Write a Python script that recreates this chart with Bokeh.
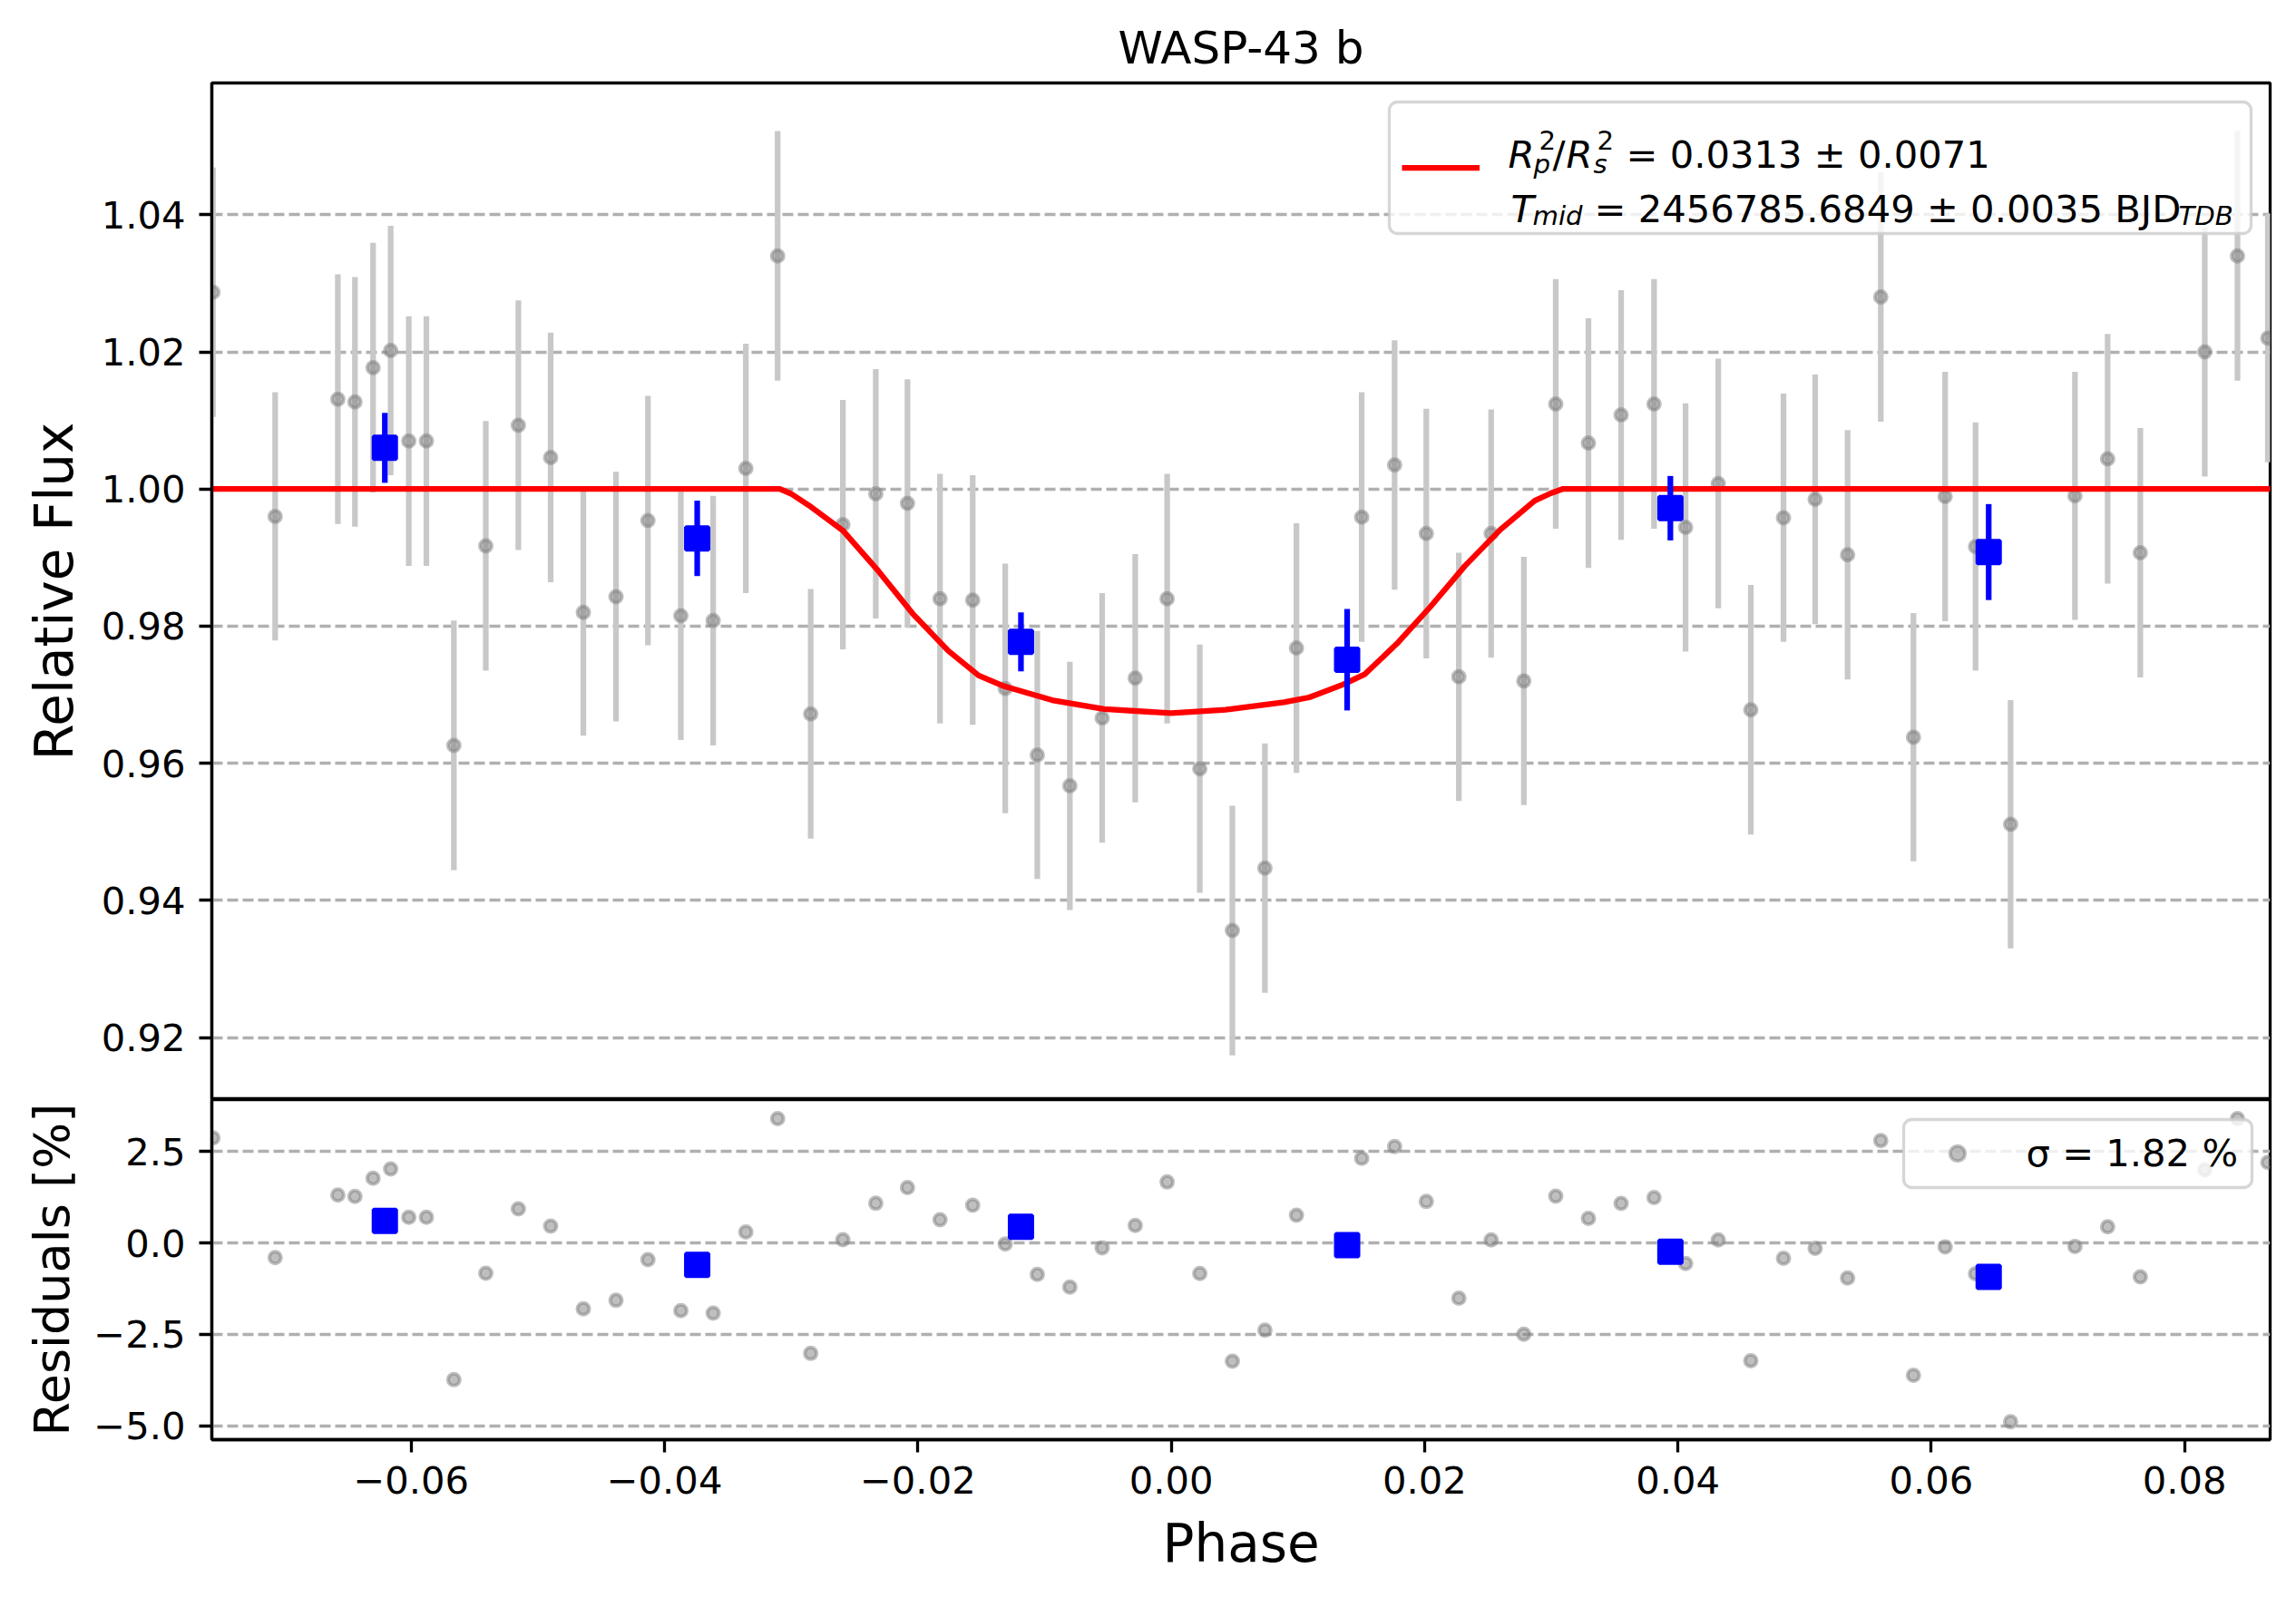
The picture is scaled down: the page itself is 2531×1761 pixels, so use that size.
import numpy as np
from bokeh.plotting import figure
from bokeh.models import (ColumnDataSource, Range1d, FixedTicker, CustomJSTickFormatter,
                          Legend, LegendItem, Label, BoxAnnotation)
from bokeh.layouts import column
from bokeh.embed import file_html
from bokeh.resources import INLINE

# ---------------- data ----------------
phase = [-0.07565, -0.07074, -0.06579, -0.06444, -0.06301, -0.06162, -0.06019, -0.05880, -0.05663, -0.05411,
         -0.05154, -0.04899, -0.04641, -0.04383, -0.04131, -0.03871, -0.03616, -0.03358, -0.03107, -0.02846,
         -0.02592, -0.02332, -0.02082, -0.01825, -0.01567, -0.01310, -0.01057, -0.00800, -0.00545, -0.00284,
         -0.00032, 0.00226, 0.00483, 0.00740, 0.00989, 0.01504, 0.01764, 0.02014, 0.02271, 0.02526,
         0.02784, 0.03036, 0.03294, 0.03552, 0.03812, 0.04061, 0.04319, 0.04576, 0.04834, 0.05084,
         0.05340, 0.05602, 0.05860, 0.06110, 0.06350, 0.06627, 0.07135, 0.07393, 0.07651, 0.08160,
         0.08418, 0.08658]
flux = [1.0287, 0.9960, 1.0131, 1.0127, 1.0177, 1.0202, 1.0070, 1.0070, 0.9626, 0.9917,
        1.0093, 1.0046, 0.9820, 0.9843, 0.9954, 0.9815, 0.9808, 1.0030, 1.0340, 0.9672,
        0.9948, 0.9993, 0.9979, 0.9840, 0.9838, 0.9709, 0.9612, 0.9567, 0.9666, 0.9724,
        0.9840, 0.9592, 0.9356, 0.9447, 0.9768, 0.9959, 1.0035, 0.9935, 0.9726, 0.9935,
        0.9720, 1.0124, 1.0067, 1.0108, 1.0124, 0.9944, 1.0008, 0.9678, 0.9958, 0.9985,
        0.9904, 1.0280, 0.9638, 0.9989, 0.9916, 0.9511, 0.9990, 1.0044, 0.9907, 1.0200,
        1.0340, 1.0220]
flux_err = [0.0182, 0.0181, 0.0182, 0.0182, 0.0182, 0.0182, 0.0182, 0.0182, 0.0182, 0.0182,
            0.0182, 0.0182, 0.0180, 0.0182, 0.0182, 0.0181, 0.0182, 0.0182, 0.0182, 0.0182,
            0.0182, 0.0182, 0.0181, 0.0182, 0.0182, 0.0182, 0.0181, 0.0181, 0.0182, 0.0181,
            0.0182, 0.0181, 0.0182, 0.0182, 0.0182, 0.0182, 0.0182, 0.0182, 0.0181, 0.0181,
            0.0181, 0.0182, 0.0182, 0.0182, 0.0182, 0.0181, 0.0182, 0.0182, 0.0181, 0.0182,
            0.0182, 0.0182, 0.0181, 0.0182, 0.0181, 0.0181, 0.0181, 0.0182, 0.0182, 0.0182,
            0.0182, 0.0181]

bin_phase = [-0.06208, -0.03742, -0.01186, 0.01389, 0.03941, 0.06454]
bin_flux = [1.0060, 0.9928, 0.9777, 0.9751, 0.9972, 0.9908]
bin_err = [0.0051, 0.0055, 0.0043, 0.0074, 0.0047, 0.0070]
bin_resid = [0.60, -0.60, 0.44, -0.06, -0.24, -0.93]

model_phase = [-0.0758, -0.0309, -0.0300, -0.0286, -0.0259, -0.0231, -0.0204, -0.0176, -0.0152, -0.0133,
               -0.0094, -0.0053, 0.0, 0.0043, 0.0089, 0.0109, 0.0136, 0.0153, 0.0178, 0.0205,
               0.0232, 0.0260, 0.0287, 0.0300, 0.0309, 0.0868]
model_flux = [1.0, 1.0, 0.9993, 0.9976, 0.9939, 0.9880, 0.9818, 0.9764, 0.9728, 0.9713,
              0.9692, 0.9679, 0.9673, 0.9678, 0.9689, 0.9696, 0.9715, 0.9730, 0.9774, 0.9829,
              0.9888, 0.9941, 0.9983, 0.9994, 1.0, 1.0]

title_text = "WASP-43 b"
x_ticks = [-0.06, -0.04, -0.02, 0.0, 0.02, 0.04, 0.06, 0.08]
flux_ticks = [0.92, 0.94, 0.96, 0.98, 1.00, 1.02, 1.04]
resid_ticks = [-5.0, -2.5, 0.0, 2.5]
sigma_label = "σ = 1.82 %"

# ---------------- layout constants ----------------
FONT = "DejaVu Sans"
TICK_FS = "41.7px"
LABEL_FS = "58px"
X0, X1 = -0.07574, 0.08676
YB, YT = 0.91094, 1.05922
RB, RT = -5.38, 3.92
LEFT, RIGHT = 233, 21
TOP_BORDER = 91
FRAME_W = 2269
TOP_FRAME_H = 1121
BOT_FRAME_H = 375
BOT_BORDER = 166
LW = 3.3

arr_phase = np.array(phase)
arr_flux = np.array(flux)
arr_err = np.array(flux_err)
resid = (arr_flux - np.interp(arr_phase, model_phase, model_flux)) * 100.0

src = ColumnDataSource(dict(phase=arr_phase, flux=arr_flux, lo=arr_flux - arr_err,
                            hi=arr_flux + arr_err, resid=resid))
bsrc = ColumnDataSource(dict(phase=bin_phase, flux=bin_flux,
                             lo=np.array(bin_flux) - np.array(bin_err),
                             hi=np.array(bin_flux) + np.array(bin_err),
                             resid=bin_resid))


def style_axis(ax, fmt_digits, label_standoff, label_fs=LABEL_FS):
    ax.axis_line_width = LW
    ax.axis_line_color = "black"
    ax.major_tick_line_width = LW
    ax.major_tick_line_color = "black"
    ax.major_tick_out = 14
    ax.major_tick_in = 0
    ax.minor_tick_line_color = None
    ax.major_label_text_font = FONT
    ax.major_label_text_font_size = TICK_FS
    ax.major_label_text_color = "black"
    ax.major_label_standoff = 15
    ax.axis_label_text_font = FONT
    ax.axis_label_text_font_size = label_fs
    ax.axis_label_text_font_style = "normal"
    ax.axis_label_text_color = "black"
    ax.axis_label_standoff = label_standoff
    ax.formatter = CustomJSTickFormatter(
        code="return tick.toFixed(%d).replace('-', '\u2212');" % fmt_digits)


def style_fig(p):
    p.outline_line_color = "black"
    p.outline_line_width = LW
    p.background_fill_color = "white"
    p.border_fill_color = "white"
    p.xgrid.grid_line_color = None
    p.ygrid.grid_line_color = "#b0b0b0"
    p.ygrid.grid_line_width = LW
    p.ygrid.grid_line_dash = "12 5"


def px_x(fx):
    return X0 + (fx - LEFT) / FRAME_W * (X1 - X0)


def px_top_y(fy):
    return YT - (fy - TOP_BORDER) / TOP_FRAME_H * (YT - YB)


def px_bot_y(fy):
    return RT - (fy - (TOP_BORDER + TOP_FRAME_H)) / BOT_FRAME_H * (RT - RB)


# ---------------- top panel ----------------
top = figure(width=LEFT + FRAME_W + RIGHT, height=TOP_BORDER + TOP_FRAME_H,
             x_range=Range1d(X0, X1), y_range=Range1d(YB, YT),
             x_axis_location=None, output_backend="svg", toolbar_location=None,
             min_border_left=LEFT, min_border_right=RIGHT,
             min_border_top=TOP_BORDER, min_border_bottom=0)
style_fig(top)
top.title.text = title_text
top.title.align = "center"
top.title.text_font = FONT
top.title.text_font_size = "50px"
top.title.text_font_style = "normal"
top.title.text_color = "black"
top.title.standoff = 20
top.yaxis.ticker = FixedTicker(ticks=flux_ticks)
style_axis(top.yaxis[0], 2, 15)
top.yaxis.axis_label = "Relative Flux"

top.segment(x0="phase", y0="lo", x1="phase", y1="hi", source=src,
            line_color="#c8c8c8", line_width=6.25)
top.scatter("phase", "flux", source=src, marker="circle", size=13,
            fill_color="gray", fill_alpha=0.5, line_color="gray", line_alpha=0.5, line_width=4)
red = top.line(model_phase, model_flux, line_color="red", line_width=6.25)
top.segment(x0="phase", y0="lo", x1="phase", y1="hi", source=bsrc,
            line_color="blue", line_width=6.25)
top.scatter("phase", "flux", source=bsrc, marker="square", size=25,
            fill_color="blue", line_color="blue", line_width=4)

# legend frame (rounded, semi-transparent) drawn as a box annotation
top.add_layout(BoxAnnotation(left=px_x(1531), right=px_x(2481), top=px_top_y(112), bottom=px_top_y(257),
                             fill_color="white", fill_alpha=0.8, line_color="#cccccc", line_alpha=0.8,
                             line_width=LW, border_radius=9))
legend_pieces = [
    ("R", 1662, 170, "41.7px", "italic"),
    ("2", 1696, 154, "29.2px", "normal"),
    ("p", 1690, 180, "29.2px", "italic"),
    ("/", 1711, 170, "41.7px", "normal"),
    ("R", 1726, 170, "41.7px", "italic"),
    ("2", 1760, 154, "29.2px", "normal"),
    ("s", 1756, 180, "29.2px", "italic"),
    ("= 0.0313 ± 0.0071", 1792, 170, "41.7px", "normal"),
    ("T", 1665, 230, "41.7px", "italic"),
    ("mid", 1689, 237, "29.2px", "italic"),
    ("= 2456785.6849 ± 0.0035 BJD", 1757, 230, "41.7px", "normal"),
    ("TDB", 2401, 237, "29.2px", "italic"),
]
for txt, fx, fy, fs, style in legend_pieces:
    top.add_layout(Label(x=px_x(fx), y=px_top_y(fy), text=txt, text_font=FONT, text_font_size=fs,
                         text_font_style=style, text_color="black",
                         text_align="left", text_baseline="alphabetic"))

leg = Legend(items=[LegendItem(label=" ", renderers=[red])], location="top_right",
             margin=21, padding=14, glyph_width=86, glyph_height=117,
             label_height=117, label_width=803, label_standoff=33,
             label_text_font_size="10px",
             background_fill_alpha=0.0, border_line_color="white", border_line_alpha=0.0)
top.add_layout(leg)

# ---------------- residual panel ----------------
bot = figure(width=LEFT + FRAME_W + RIGHT, height=BOT_FRAME_H + BOT_BORDER,
             x_range=top.x_range, y_range=Range1d(RB, RT),
             output_backend="svg", toolbar_location=None,
             min_border_left=LEFT, min_border_right=RIGHT,
             min_border_top=0, min_border_bottom=BOT_BORDER)
style_fig(bot)
bot.xaxis.ticker = FixedTicker(ticks=x_ticks)
bot.yaxis.ticker = FixedTicker(ticks=resid_ticks)
style_axis(bot.xaxis[0], 2, 18)
style_axis(bot.yaxis[0], 1, 11, label_fs="54px")
bot.xaxis.axis_label = "Phase"
bot.yaxis.axis_label = "Residuals [%]"

gres = bot.scatter("phase", "resid", source=src, marker="circle", size=13,
                   fill_color="gray", fill_alpha=0.5, line_color="gray", line_alpha=0.5, line_width=4)
bot.scatter("phase", "resid", source=bsrc, marker="square", size=25,
            fill_color="blue", line_color="blue", line_width=4)

bot.add_layout(BoxAnnotation(left=px_x(2098), right=px_x(2482), top=px_bot_y(1234), bottom=px_bot_y(1309),
                             fill_color="white", fill_alpha=0.8, line_color="#cccccc", line_alpha=0.8,
                             line_width=LW, border_radius=9))
leg2 = Legend(items=[LegendItem(label=sigma_label, renderers=[gres])], location="top_right",
              margin=21, padding=14, glyph_width=86, glyph_height=41,
              label_height=41, label_standoff=33,
              label_text_font=FONT, label_text_font_size=TICK_FS, label_text_color="black",
              background_fill_alpha=0.0, border_line_color="white", border_line_alpha=0.0)
bot.add_layout(leg2)

layout = column(top, bot)
open("out.html", "w").write(file_html(layout, INLINE))
